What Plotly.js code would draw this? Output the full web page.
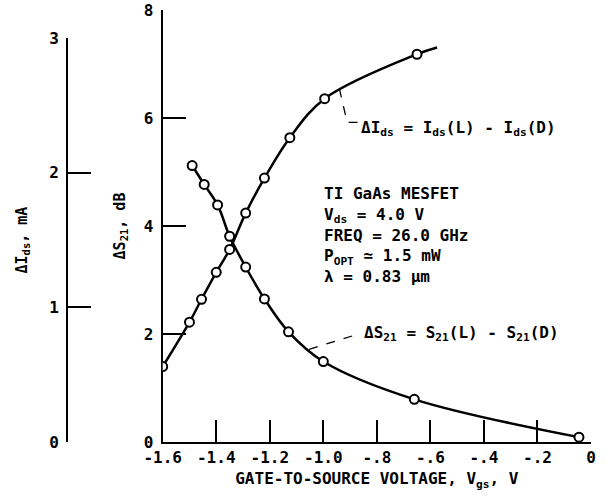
<!DOCTYPE html>
<html>
<head>
<meta charset="utf-8">
<script src="https://cdn.plot.ly/plotly-3.0.1.min.js"></script>
<style>html,body{margin:0;padding:0;background:#fff;}#chart{width:606px;height:500px;}</style>
</head>
<body>
<div id="chart"></div>
<script>
// ---- data ----
// Delta I_ds (mA) vs gate-to-source voltage (V)
const idsV  = [-1.60, -1.50, -1.455, -1.40, -1.35, -1.29, -1.22, -1.125, -0.995, -0.65];
const idsMA = [0.56, 0.89, 1.06, 1.26, 1.43, 1.70, 1.96, 2.26, 2.55, 2.88];
const idsCurveEndV = -0.575;   // where the drawn curve ends
const idsCurveEndMA = 2.93;

// Delta S21 (dB) vs gate-to-source voltage (V)
const s21V  = [-1.49, -1.445, -1.395, -1.35, -1.29, -1.22, -1.13, -1.00, -0.66, -0.045];
const s21DB = [5.12, 4.77, 4.39, 3.81, 3.24, 2.65, 2.04, 1.49, 0.79, 0.09];

// axis ticks
const xTickVals = [-1.6, -1.4, -1.2, -1.0, -0.8, -0.6, -0.4, -0.2, 0];
const xTickText = ["-1.6", "-1.4", "-1.2", "-1.0", "-.8", "-.6", "-.4", "-.2", "0"];
const s21TickVals = [0, 2, 4, 6, 8];
const idsTickVals = [0, 1, 2, 3];

const FONT = "DejaVu Sans Mono, Liberation Mono, monospace";
const INK = "#000";
const f = (size) => ({ family: FONT, size: size, color: INK, weight: "bold" });

const traces = [
  { x: idsV.concat([idsCurveEndV]), y: idsMA.concat([idsCurveEndMA]), xaxis: "x", yaxis: "y2",
    mode: "lines", line: { color: INK, width: 2.5, shape: "spline", smoothing: 1 }, hoverinfo: "skip", showlegend: false },
  { x: idsV, y: idsMA, xaxis: "x", yaxis: "y2", mode: "markers", name: "ΔIds",
    marker: { symbol: "circle", size: 9, color: "#fff", line: { color: INK, width: 2 } }, showlegend: false },
  { x: s21V, y: s21DB, xaxis: "x", yaxis: "y",
    mode: "lines", line: { color: INK, width: 2.5, shape: "spline", smoothing: 1 }, hoverinfo: "skip", showlegend: false },
  { x: s21V, y: s21DB, xaxis: "x", yaxis: "y", mode: "markers", name: "ΔS21",
    marker: { symbol: "circle", size: 9, color: "#fff", line: { color: INK, width: 2 } }, showlegend: false }
];

const layout = {
  width: 606, height: 500,
  margin: { l: 40, r: 15, t: 10, b: 58 },
  paper_bgcolor: "#fff", plot_bgcolor: "rgba(0,0,0,0)",
  font: f(16),
  showlegend: false,
  xaxis: {
    domain: [0.2227, 1], range: [-1.6, 0], anchor: "y",
    tickmode: "array", tickvals: xTickVals, ticktext: xTickText,
    ticks: "inside", ticklen: 22, tickwidth: 2, tickcolor: INK,
    showline: true, linewidth: 2, linecolor: INK, showgrid: false, zeroline: false,
    tickfont: f(16),
    title: { text: "GATE-TO-SOURCE VOLTAGE, V<sub>gs</sub>, V", font: f(16), standoff: 7 }
  },
  yaxis: {
    domain: [0, 1], range: [0, 8], anchor: "x",
    tickmode: "array", tickvals: s21TickVals,
    ticks: "inside", ticklen: 23, tickwidth: 2, tickcolor: INK,
    showline: true, linewidth: 2, linecolor: INK, showgrid: false, zeroline: false,
    tickfont: f(16), ticklabelstandoff: 4,
    title: { text: "ΔS<sub>21</sub>, dB", font: f(15), standoff: 15 }
  },
  yaxis2: {
    domain: [0, 0.935], range: [0, 3], anchor: "free", position: 0.049, side: "left",
    tickmode: "array", tickvals: idsTickVals,
    ticks: "inside", ticklen: 23, tickwidth: 2, tickcolor: INK,
    showline: true, linewidth: 2, linecolor: INK, showgrid: false, zeroline: false,
    tickfont: f(16), ticklabelstandoff: 4,
    title: { text: "ΔI<sub>ds</sub>, mA", font: f(15), standoff: 17 }
  },
  shapes: [
    { type: "path", xref: "x", yref: "y", path: "M -0.940 6.544 L -0.911 5.92 L -0.872 5.92",
      line: { color: INK, width: 1.3, dash: "dash" } },
    { type: "path", xref: "x", yref: "y", path: "M -1.053 1.717 L -0.872 1.994",
      line: { color: INK, width: 1.3, dash: "dash" } }
  ],
  annotations: [
    { xref: "x", yref: "y", x: -0.865, y: 5.80, xanchor: "left", yanchor: "middle", showarrow: false,
      text: "ΔI<sub>ds</sub> = I<sub>ds</sub>(L) - I<sub>ds</sub>(D)", font: f(16) },
    { xref: "x", yref: "y", x: -1.006, y: 4.82, xanchor: "left", yanchor: "top", align: "left", showarrow: false,
      text: "TI GaAs MESFET<br>V<sub>ds</sub> = 4.0 V<br>FREQ = 26.0 GHz<br>P<sub>OPT</sub> ≃ 1.5 mW<br>λ = 0.83 µm",
      font: f(16) },
    { xref: "x", yref: "y", x: -0.855, y: 2.01, xanchor: "left", yanchor: "middle", showarrow: false,
      text: "ΔS<sub>21</sub> = S<sub>21</sub>(L) - S<sub>21</sub>(D)", font: f(16) }
  ]
};

Plotly.newPlot("chart", traces, layout, { staticPlot: true, displayModeBar: false });
</script>
</body>
</html>
